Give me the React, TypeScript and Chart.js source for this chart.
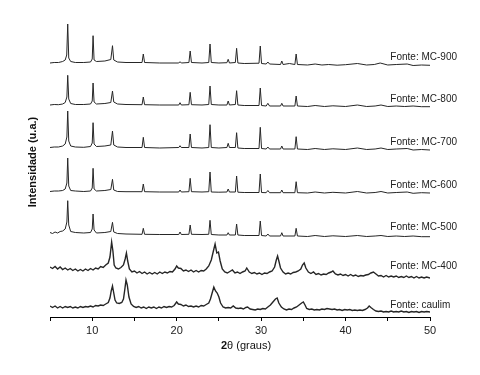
import React, { useEffect, useRef } from "react";
import { Chart, registerables } from "chart.js";

Chart.register(...registerables);

// 2θ tick positions (labels only on multiples of 10)
const X_TICKS = [5, 10, 15, 20, 25, 30, 35, 40, 45, 50];

const SERIES_NAMES = [
  "Fonte: MC-900",
  "Fonte: MC-800",
  "Fonte: MC-700",
  "Fonte: MC-600",
  "Fonte: MC-500",
  "Fonte: MC-400",
  "Fonte: caulim",
];

// label vertical anchor (same stacked intensity units as the data)
const LABEL_Y = [260, 218, 175, 132, 90, 51, 12];

// [2θ, intensity (u.a., stacked)]
const MC900: [number, number][] = [
  [5, 254], [5.5, 254.5], [6, 254.5], [6.5, 255.5], [6.8, 257], [6.98, 262], [7.1, 293], [7.22, 259], [7.45, 255.5],
  [8, 254.5], [9, 254.5], [9.8, 255], [10.0, 258], [10.1, 281.3], [10.22, 257], [10.5, 255.5], [11.5, 256],
  [12.2, 257.5], [12.4, 271.3], [12.55, 257], [13, 255], [14, 254.5], [15.9, 254.5], [16.05, 263], [16.2, 254.5],
  [18, 254], [20.25, 254], [20.4, 255.3], [20.55, 254], [21.45, 254.5], [21.6, 266], [21.75, 254.5], [23, 254],
  [23.8, 254.5], [23.95, 273], [24.1, 254.5], [25, 254], [25.95, 254.3], [26.1, 257.7], [26.25, 254], [26.95, 254.5],
  [27.1, 268.7], [27.25, 254], [28, 253.5], [29.75, 253.8], [29.9, 271], [30.05, 253.5], [30.6, 253], [30.8, 255],
  [31, 253], [32.3, 252.5], [32.45, 256], [32.6, 252.5], [33.35, 253.5], [34, 252.5], [34.15, 263], [34.3, 252.5],
  [35.5, 252], [36.4, 253], [37.2, 252], [38, 252.5], [39, 251.8], [40, 252.3], [41.4, 253.5], [42.5, 252],
  [43.4, 252.5], [44.1, 254], [45, 252], [46, 252.5], [47.3, 253], [48, 251.5], [49, 252], [50, 251.7],
];

const MC800: [number, number][] = [
  [5, 212], [5.5, 212.5], [6, 212.3], [6.5, 213], [6.8, 214.5], [7.0, 220], [7.1, 241.7], [7.22, 218], [7.45, 213.5],
  [8, 212.5], [9, 212.5], [9.8, 213], [10.0, 216], [10.1, 234], [10.22, 215], [10.5, 213], [11.5, 213.5],
  [12.2, 214.5], [12.4, 226], [12.55, 215], [13, 213], [14, 212.5], [15.9, 212.3], [16.05, 220], [16.2, 212.3],
  [18, 212], [20.25, 212], [20.4, 214.3], [20.55, 212], [21.45, 212.3], [21.6, 224.7], [21.75, 212.3], [23, 212],
  [23.8, 212.5], [23.95, 231], [24.1, 212.5], [25, 212], [25.95, 212], [26.1, 216], [26.25, 212], [26.95, 212.5],
  [27.1, 226.3], [27.25, 212], [28, 211.5], [29.75, 211.5], [29.9, 229], [30.05, 211.5], [30.6, 211], [30.8, 213.7],
  [31, 211], [32.3, 211], [32.45, 213.7], [32.6, 211], [34, 211], [34.15, 221], [34.3, 211], [35.5, 210.5],
  [36.4, 211.5], [37.5, 210.5], [38.5, 211.2], [40, 210.5], [41.4, 212], [42.5, 210.5], [43.5, 211], [44.2, 212],
  [45, 210.5], [46, 211], [47, 210.5], [48, 211], [49, 210.3], [50, 210.3],
];

const MC700: [number, number][] = [
  [5, 169.5], [5.5, 170], [6, 170], [6.5, 171], [6.8, 173], [7.0, 180], [7.1, 206], [7.22, 176], [7.45, 171],
  [8, 170], [9, 169.7], [9.8, 170.5], [10.0, 174], [10.1, 194.3], [10.22, 173], [10.5, 170.5], [11.5, 171],
  [12.2, 172], [12.4, 186], [12.55, 172], [13, 170], [14, 169.5], [15.9, 169.5], [16.05, 179.7], [16.2, 169.5],
  [18, 169], [20.25, 169.5], [20.4, 171.3], [20.55, 169.5], [21.45, 169.5], [21.6, 183], [21.75, 169.5], [23, 169],
  [23.8, 169.5], [23.95, 192.3], [24.1, 169.5], [25, 169], [25.95, 169.5], [26.1, 173.7], [26.25, 169.5],
  [26.95, 169.5], [27.1, 184.3], [27.25, 169], [28, 168.5], [29.75, 168.5], [29.9, 189.7], [30.05, 168.5],
  [30.6, 168], [30.8, 170], [31, 168], [32.3, 168], [32.45, 171], [32.6, 168], [34, 168], [34.15, 180.3], [34.3, 168],
  [35.5, 167.5], [36.4, 168.5], [37.5, 167.5], [38.5, 168.2], [40, 167.5], [41.4, 169], [42.5, 167.5], [43.5, 168],
  [44.2, 169], [45, 167.5], [46, 168], [47.3, 168.5], [48, 167], [49, 167.5], [50, 167],
];

const MC600: [number, number][] = [
  [5, 125.5], [5.5, 126], [6, 126], [6.5, 126.5], [6.8, 128], [7.0, 134], [7.1, 159], [7.22, 131], [7.45, 126.5],
  [8, 126], [9, 125.5], [9.8, 126], [10.0, 129], [10.1, 148.7], [10.22, 128], [10.5, 126], [11.5, 126.5],
  [12.2, 127.5], [12.4, 137.7], [12.55, 127], [13, 125.5], [14, 125.3], [15.9, 125.3], [16.05, 133], [16.2, 125.3],
  [18, 125], [20.25, 125], [20.4, 127], [20.55, 125], [21.45, 125.3], [21.6, 138.7], [21.75, 125.3], [23, 125],
  [23.8, 125.3], [23.95, 145], [24.1, 125], [25, 124.8], [25.95, 125], [26.1, 128], [26.25, 125], [26.95, 125],
  [27.1, 141], [27.25, 124.8], [28, 124.5], [29.75, 124.5], [29.9, 143], [30.05, 124.5], [30.6, 124.3],
  [30.8, 126.5], [31, 124.3], [32.3, 124.3], [32.45, 127], [32.6, 124.3], [34, 124.3], [34.15, 135.3], [34.3, 124.3],
  [35.5, 124], [36.4, 125], [37.5, 124], [38.5, 124.7], [40, 124], [41.4, 125.5], [42.5, 124], [43.5, 124.5],
  [44.2, 125.5], [45, 124], [46, 124.5], [47.3, 125], [48, 123.7], [49, 124.3], [50, 124],
];

const MC500: [number, number][] = [
  [5, 84.5], [5.3, 83.5], [5.6, 85], [5.9, 84], [6.2, 85.5], [6.5, 86], [6.8, 88], [7.0, 95], [7.1, 116.3],
  [7.22, 92], [7.45, 85.5], [8, 84.5], [9, 84], [9.8, 84.5], [10.0, 88], [10.1, 103], [10.22, 87], [10.5, 84],
  [11.5, 84.5], [12.2, 85.5], [12.4, 94.7], [12.55, 85], [13, 83.5], [14, 83], [15.9, 82.7], [16.05, 88.7],
  [16.2, 82.7], [18, 82.5], [20.25, 82.5], [20.4, 85], [20.55, 82.5], [21.45, 82.7], [21.6, 92], [21.75, 82.7],
  [23, 82.5], [23.8, 82.7], [23.95, 96.7], [24.1, 82.5], [25, 82], [25.95, 82], [26.1, 84.3], [26.25, 82],
  [26.95, 82], [27.1, 93], [27.25, 82], [28, 81.5], [29.75, 81.5], [29.9, 96], [30.05, 81.5], [30.6, 81],
  [30.8, 83], [31, 81], [32.3, 81], [32.45, 84.3], [32.6, 81], [34, 81], [34.15, 88.7], [34.3, 81], [35.5, 80.5],
  [36.4, 81.5], [37.5, 80.5], [38.5, 81.2], [40, 80.5], [41.4, 81.5], [42.5, 80.5], [43.5, 81], [44.2, 81.5],
  [45, 80.5], [46, 81], [47, 80.5], [48, 81], [49, 80.3], [50, 80.3],
];

const MC400: [number, number][] = [
  [5, 50], [5.3, 48.5], [5.6, 50.5], [5.9, 48], [6.2, 50], [6.5, 47.5], [6.8, 49], [7.1, 47], [7.4, 48.5], [7.7, 46.5],
  [8, 48], [8.3, 46], [8.6, 47.5], [8.9, 46], [9.2, 48], [9.5, 46.5], [9.8, 48.5], [10.1, 47], [10.4, 49], [10.7, 48],
  [11, 50.5], [11.3, 49.5], [11.6, 52], [11.9, 54], [12.1, 60], [12.3, 75], [12.45, 66], [12.6, 52], [12.8, 49],
  [13.1, 48], [13.4, 49.5], [13.7, 52], [13.9, 58], [14.05, 64], [14.2, 56], [14.4, 48], [14.7, 45], [15, 46],
  [15.3, 44], [15.6, 45.5], [15.9, 43.5], [16.2, 45], [16.5, 43], [16.8, 44.5], [17.1, 43], [17.4, 44.5], [17.7, 43],
  [18, 45], [18.3, 43.5], [18.6, 45], [18.9, 44], [19.2, 45.5], [19.5, 45], [19.8, 48], [20, 51], [20.2, 49],
  [20.5, 48.5], [20.8, 46], [21.1, 47], [21.4, 45.5], [21.7, 47], [22, 45], [22.3, 46.5], [22.6, 45], [22.9, 46.5],
  [23.2, 46], [23.5, 48], [23.8, 51], [24.1, 57], [24.35, 66], [24.55, 73], [24.75, 64], [24.95, 65], [25.15, 56],
  [25.4, 48], [25.7, 45], [26, 44], [26.3, 45.5], [26.6, 47], [26.9, 44], [27.2, 45], [27.5, 43.5], [27.8, 45],
  [28.1, 46], [28.3, 49], [28.6, 45], [28.9, 43.5], [29.2, 44.5], [29.5, 43], [29.8, 44], [30.1, 42.5], [30.4, 44],
  [30.7, 43.5], [31, 45], [31.3, 46], [31.6, 50], [31.8, 57], [31.95, 61], [32.1, 56], [32.3, 49], [32.6, 45],
  [32.9, 43], [33.2, 44], [33.5, 43], [33.8, 44.5], [34.1, 45], [34.4, 46], [34.7, 48], [34.9, 52], [35.1, 54],
  [35.3, 49], [35.6, 45], [35.9, 43.5], [36.2, 45], [36.5, 42.5], [36.8, 43.5], [37.1, 42], [37.4, 43], [37.7, 42.5],
  [38, 44], [38.3, 45], [38.5, 46], [38.8, 43], [39.1, 42], [39.4, 43], [39.7, 41.5], [40, 42.5], [40.3, 41],
  [40.6, 42.5], [40.9, 41], [41.2, 42], [41.5, 40.5], [41.8, 41.5], [42.1, 41], [42.4, 42], [42.7, 42.5], [43, 44],
  [43.3, 45], [43.6, 43], [43.9, 41], [44.2, 41.5], [44.5, 40], [44.8, 41.5], [45.1, 40], [45.4, 41], [45.7, 40],
  [46, 41], [46.3, 39.5], [46.6, 40.5], [46.9, 39.5], [47.2, 41], [47.5, 39.5], [47.8, 40.5], [48.1, 39], [48.4, 40.5],
  [48.7, 39], [49, 40], [49.3, 39], [49.6, 40], [50, 39],
];

const CAULIM: [number, number][] = [
  [5, 11], [5.3, 9.5], [5.6, 11], [5.9, 9], [6.2, 10.5], [6.5, 9], [6.8, 10.5], [7.1, 9.5], [7.4, 10.5], [7.7, 9],
  [8, 10], [8.3, 9], [8.6, 10.5], [8.9, 9.5], [9.2, 10.5], [9.5, 10], [9.8, 11], [10.1, 10], [10.4, 11.5], [10.7, 11],
  [11, 12], [11.3, 11.5], [11.6, 13], [11.9, 14.5], [12.1, 19], [12.25, 26], [12.4, 31], [12.55, 24], [12.7, 17],
  [12.9, 14], [13.2, 13.5], [13.5, 14.5], [13.7, 18], [13.85, 27], [14, 37], [14.15, 32], [14.35, 20], [14.6, 13],
  [14.9, 10.5], [15.2, 9.5], [15.5, 10.5], [15.8, 9], [16.1, 10], [16.4, 8.5], [16.7, 10], [17, 9], [17.3, 10],
  [17.6, 8.5], [17.9, 10], [18.2, 9], [18.5, 10.5], [18.8, 9.5], [19.1, 10.5], [19.4, 10], [19.7, 11.5], [20, 15],
  [20.2, 13], [20.5, 12.5], [20.8, 11], [21.1, 12], [21.4, 10.5], [21.7, 11], [22, 10], [22.3, 11], [22.6, 10],
  [22.9, 11.5], [23.2, 11], [23.5, 12.5], [23.8, 14], [24, 18], [24.2, 24], [24.4, 30], [24.6, 26], [24.8, 24],
  [25, 20], [25.2, 14], [25.5, 10], [25.8, 9], [26.1, 9.5], [26.4, 9], [26.7, 11], [27, 9], [27.3, 8.5], [27.6, 9],
  [27.9, 8], [28.2, 9.5], [28.4, 10], [28.7, 8], [29, 7.5], [29.3, 7], [29.6, 8], [29.9, 7.5], [30.2, 8.5], [30.5, 8],
  [30.8, 10], [31.1, 12], [31.4, 15], [31.7, 18], [31.9, 19], [32.1, 14], [32.4, 10], [32.7, 8], [33, 7], [33.3, 8],
  [33.6, 7.5], [33.9, 9], [34.2, 10], [34.5, 12], [34.8, 14], [35, 15], [35.2, 12], [35.4, 8.5], [35.7, 7.5], [36, 8],
  [36.3, 7], [36.6, 7.5], [36.9, 7], [37.2, 8], [37.5, 7.5], [37.8, 8.5], [38.1, 8], [38.4, 7.5], [38.7, 8], [39, 7],
  [39.3, 7.5], [39.6, 6.5], [39.9, 7.5], [40.2, 7], [40.5, 7.5], [40.8, 6.5], [41.1, 7], [41.4, 6.5], [41.7, 7],
  [42, 6.5], [42.3, 7.5], [42.6, 9], [42.8, 11], [43, 9.5], [43.3, 7.5], [43.6, 6], [43.9, 5.5], [44.2, 6], [44.5, 5],
  [44.8, 5.5], [45.1, 5], [45.4, 6], [45.7, 5], [46, 5.5], [46.3, 5], [46.6, 6], [46.9, 5], [47.2, 5.5], [47.5, 4.5],
  [47.8, 5.5], [48.1, 5], [48.4, 5.5], [48.7, 4.5], [49, 5.5], [49.3, 5], [49.6, 5.5], [50, 5],
];

const ALL_SERIES = [MC900, MC800, MC700, MC600, MC500, MC400, CAULIM];
const NOISY = [false, false, false, false, false, true, true];

const FONT = 'Arial, "Liberation Sans", Helvetica, sans-serif';

const textPlugin = {
  id: "xrdText",
  afterDraw(chart: any) {
    const { ctx, chartArea, scales } = chart;
    const xs = scales.x;
    const ys = scales.y;
    ctx.save();
    // series labels
    ctx.fillStyle = "#222";
    ctx.font = `10px ${FONT}`;
    ctx.textAlign = "left";
    ctx.textBaseline = "middle";
    SERIES_NAMES.forEach((name, i) => {
      const px = xs.getPixelForValue(45.3);
      const py = ys.getPixelForValue(LABEL_Y[i]);
      ctx.fillText(name, px, py);
    });
    // y title
    ctx.save();
    ctx.translate(33, (chartArea.top + chartArea.bottom) / 2 - 5);
    ctx.rotate(-Math.PI / 2);
    ctx.font = `bold 11px ${FONT}`;
    ctx.fillStyle = "#111";
    ctx.textAlign = "center";
    ctx.textBaseline = "middle";
    ctx.fillText("Intensidade (u.a.)", 0, 0);
    ctx.restore();
    // x title: bold "2" + normal "θ (graus)"
    ctx.font = `bold 11px ${FONT}`;
    const w1 = ctx.measureText("2").width;
    ctx.font = `11px ${FONT}`;
    const w2 = ctx.measureText("θ (graus)").width;
    const cx = (chartArea.left + chartArea.right) / 2 + 6;
    const startX = cx - (w1 + w2) / 2;
    const ty = chartArea.bottom + 29;
    ctx.fillStyle = "#111";
    ctx.textBaseline = "middle";
    ctx.font = `bold 11px ${FONT}`;
    ctx.fillText("2", startX, ty);
    ctx.font = `11px ${FONT}`;
    ctx.fillText("θ (graus)", startX + w1, ty);
    ctx.restore();
  },
};

export default function App() {
  const ref = useRef<HTMLCanvasElement | null>(null);

  useEffect(() => {
    if (!ref.current) return;
    const chart = new Chart(ref.current, {
      type: "line",
      data: {
        datasets: ALL_SERIES.map((s, i) => ({
          label: SERIES_NAMES[i],
          data: s.map(([x, y]) => ({ x, y })),
          borderColor: "#262626",
          borderWidth: NOISY[i] ? 1.4 : 1,
          pointRadius: 0,
          tension: 0,
          fill: false,
        })),
      },
      options: {
        animation: false,
        responsive: false,
        devicePixelRatio: 1,
        layout: { padding: { top: 17, left: 50, right: 50, bottom: 0 } },
        plugins: {
          legend: { display: false },
          tooltip: { enabled: false },
        },
        scales: {
          x: {
            type: "linear",
            min: 5,
            max: 50,
            afterBuildTicks: (scale: any) => {
              scale.ticks = X_TICKS.map((v) => ({ value: v }));
            },
            afterFit: (scale: any) => {
              scale.height = 58;
            },
            ticks: {
              autoSkip: false,
              maxRotation: 0,
              padding: 3,
              color: "#222",
              font: { family: FONT, size: 11 },
              callback: (v: any) => (Number(v) % 10 === 0 ? String(v) : ""),
            },
            grid: {
              drawOnChartArea: false,
              drawTicks: true,
              tickLength: 4,
              color: "#000",
            },
            border: { display: true, color: "#000", width: 1 },
          },
          y: {
            display: false,
            min: 0,
            max: 300,
          },
        },
      },
      plugins: [textPlugin],
    });
    return () => chart.destroy();
  }, []);

  return (
    <div style={{ position: "absolute", left: 0, top: 0, width: 480, height: 375, background: "#fff" }}>
      <canvas ref={ref} width={480} height={375} />
    </div>
  );
}
